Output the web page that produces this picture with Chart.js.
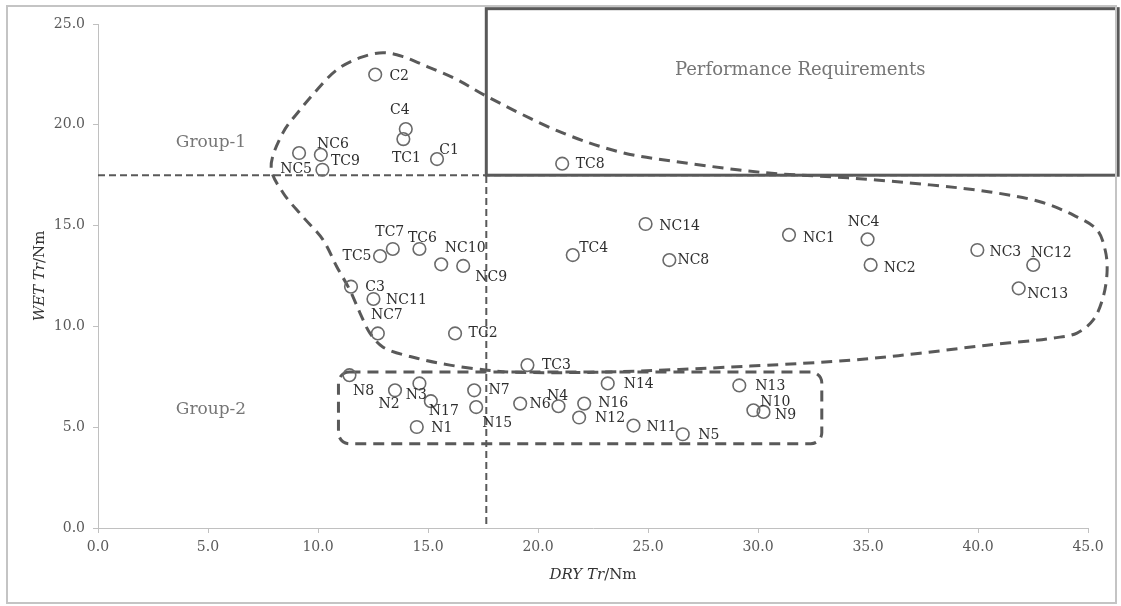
<!DOCTYPE html>
<html>
<head>
<meta charset="utf-8">
<script src="https://cdn.jsdelivr.net/npm/chart.js@4.4.1/dist/chart.umd.min.js"></script>
<style>
  html, body { margin: 0; padding: 0; background: #ffffff; }
  #wrap { width: 1121px; height: 606px; }
</style>
</head>
<body>
<div id="wrap"><canvas id="c" width="1121" height="606"></canvas></div>
<script>
// ---------- data ----------
const pointNames = ['C2','C4','TC1','C1','NC5','NC6','TC9','TC8',
  'TC7','TC5','TC6','NC10','NC9','C3','NC11','NC7','TC2',
  'N8','N2','N3','N17','N1','N7','N15','N6','N4','TC3',
  'N14','N16','N12','N11','N5','N13','N10','N9',
  'TC4','NC14','NC8','NC1','NC4','NC2','NC3','NC12','NC13'];
const dryTr = [12.60,13.99,13.88,15.41,9.14,10.13,10.20,21.10,
  13.40,12.82,14.61,15.60,16.60,11.50,12.52,12.72,16.23,
  11.43,13.50,14.61,15.13,14.49,17.10,17.19,19.19,20.93,19.52,
  23.17,22.10,21.87,24.34,26.58,29.15,29.79,30.25,
  21.58,24.89,25.97,31.41,34.98,35.12,39.97,42.51,41.85];
const wetTr = [22.49,19.79,19.29,18.30,18.60,18.51,17.77,18.07,
  13.84,13.49,13.84,13.08,13.00,11.97,11.36,9.65,9.65,
  7.58,6.83,7.17,6.29,5.01,6.83,6.00,6.17,6.04,8.08,
  7.17,6.17,5.48,5.08,4.65,7.07,5.84,5.76,
  13.54,15.08,13.29,14.54,14.32,13.05,13.79,13.05,11.89];

// label placement relative to each marker (pixels)
const labelDx = [24,-6,3,12,-3,12,23,28,
  -3,-23,3,24,28,24,33,9,28,
  14,-6,-3,13,25,25,21,20,-1,29,
  31,29,31,28,26,31,22,22,
  21,34,24,30,-4,29,28,18,29];
const labelDy = [2,-19,19,-9,16,-10,-8,1,
  -17,0,-11,-16,11,1,1,-18,0,
  16,14,12,10,1,0,16,1,-10,0,
  1,0,1,2,1,1,-8,3,
  -7,2,0,3,-17,3,2,-12,6];

const xTickLabels = ['0.0','5.0','10.0','15.0','20.0','25.0','30.0','35.0','40.0','45.0'];
const yTickLabels = ['0.0','5.0','10.0','15.0','20.0','25.0'];

const dryThreshold = 17.65;   // vertical dashed line
const wetThreshold = 17.5;    // horizontal dashed line
const perfBoxX = [17.65, 46.37];
const perfBoxY = [17.5, 25.76];
const group2BoxX = [10.93, 32.90];
const group2BoxY = [4.18, 7.74];

// Group-1 outline (data coordinates)
const group1OutlineX = [7.87,8.41,9.19,9.96,10.87,11.91,12.96,13.87,14.96,16.32,17.69,21.09,23.87,26.64,30.37,34.09,37.82,40.55,42.82,44.32,45.41,45.78,45.87,45.69,45.23,44.50,43.41,40.41,37.37,34.32,29.64,22.82,18.87,17.69,16.00,14.50,12.96,12.36,11.91,11.45,10.86,10.23,9.32,8.41];
const group1OutlineY = [17.87,19.61,20.75,21.74,22.74,23.33,23.58,23.38,22.89,22.24,21.40,19.61,18.61,18.12,17.62,17.37,17.02,16.67,16.18,15.53,14.79,13.79,12.80,11.46,10.31,9.67,9.42,9.07,8.67,8.33,8.03,7.73,7.73,7.83,8.08,8.42,8.97,9.67,10.66,11.80,12.95,14.29,15.43,16.63];

// ---------- drawing ----------
const SERIF = "'DejaVu Serif', 'Liberation Serif', serif";
const LINE = '#595959';

// closed centripetal Catmull-Rom spline
function closedSpline(ctx, pts) {
  const n = pts.length;
  const dist = (a, b) => Math.pow(Math.hypot(b[0] - a[0], b[1] - a[1]), 0.5) || 1e-6;
  ctx.beginPath();
  ctx.moveTo(pts[0][0], pts[0][1]);
  for (let i = 0; i < n; i++) {
    const p0 = pts[(i - 1 + n) % n], p1 = pts[i], p2 = pts[(i + 1) % n], p3 = pts[(i + 2) % n];
    const d1 = dist(p0, p1), d2 = dist(p1, p2), d3 = dist(p2, p3);
    const b1 = [0, 1].map(k => (d1 * d1 * p2[k] - d2 * d2 * p0[k] + (2 * d1 * d1 + 3 * d1 * d2 + d2 * d2) * p1[k]) / (3 * d1 * (d1 + d2)));
    const b2 = [0, 1].map(k => (d3 * d3 * p1[k] - d2 * d2 * p3[k] + (2 * d3 * d3 + 3 * d3 * d2 + d2 * d2) * p2[k]) / (3 * d3 * (d3 + d2)));
    ctx.bezierCurveTo(b1[0], b1[1], b2[0], b2[1], p2[0], p2[1]);
  }
  ctx.closePath();
}

function roundRectPath(ctx, x0, y0, x1, y1, r) {
  ctx.beginPath();
  ctx.moveTo(x0 + r, y0);
  ctx.lineTo(x1 - r, y0);
  ctx.arcTo(x1, y0, x1, y0 + r, r);
  ctx.lineTo(x1, y1 - r);
  ctx.arcTo(x1, y1, x1 - r, y1, r);
  ctx.lineTo(x0 + r, y1);
  ctx.arcTo(x0, y1, x0, y1 - r, r);
  ctx.lineTo(x0, y0 + r);
  ctx.arcTo(x0, y0, x0 + r, y0, r);
  ctx.closePath();
}

const decorPlugin = {
  id: 'decor',
  beforeDraw(chart) {
    const ctx = chart.ctx;
    ctx.save();
    ctx.fillStyle = '#ffffff';
    ctx.fillRect(0, 0, chart.width, chart.height);
    ctx.restore();
  },
  beforeDatasetsDraw(chart) {
    const ctx = chart.ctx, xs = chart.scales.x, ys = chart.scales.y;
    ctx.save();
    // threshold lines
    ctx.strokeStyle = LINE;
    ctx.lineWidth = 2;
    ctx.setLineDash([7, 4]);
    ctx.beginPath();
    ctx.moveTo(xs.getPixelForValue(0), ys.getPixelForValue(wetThreshold));
    ctx.lineTo(xs.getPixelForValue(45), ys.getPixelForValue(wetThreshold));
    ctx.stroke();
    ctx.beginPath();
    ctx.moveTo(xs.getPixelForValue(dryThreshold), ys.getPixelForValue(0) - 4);
    ctx.lineTo(xs.getPixelForValue(dryThreshold), ys.getPixelForValue(wetThreshold));
    ctx.stroke();

    // performance requirements box
    ctx.setLineDash([]);
    ctx.lineWidth = 3;
    const bx0 = xs.getPixelForValue(perfBoxX[0]), bx1 = xs.getPixelForValue(perfBoxX[1]);
    const by0 = ys.getPixelForValue(perfBoxY[1]), by1 = ys.getPixelForValue(perfBoxY[0]);
    ctx.strokeRect(bx0, by0, bx1 - bx0, by1 - by0);

    // group outlines
    ctx.lineWidth = 3;
    ctx.setLineDash([11, 7]);
    const pts = group1OutlineX.map((v, i) => [xs.getPixelForValue(v), ys.getPixelForValue(group1OutlineY[i])]);
    closedSpline(ctx, pts);
    ctx.stroke();
    roundRectPath(ctx, xs.getPixelForValue(group2BoxX[0]), ys.getPixelForValue(group2BoxY[1]),
      xs.getPixelForValue(group2BoxX[1]), ys.getPixelForValue(group2BoxY[0]), 11);
    ctx.stroke();

    // annotation texts
    ctx.setLineDash([]);
    ctx.fillStyle = '#767676';
    ctx.textAlign = 'center';
    ctx.textBaseline = 'middle';
    ctx.font = '18px ' + SERIF;
    ctx.fillText('Performance Requirements', (bx0 + bx1) / 2 - 2, 70);
    ctx.font = '17px ' + SERIF;
    ctx.fillText('Group-1', 211, 143);
    ctx.fillText('Group-2', 211, 410);
    ctx.restore();
  },
  afterDatasetsDraw(chart) {
    const ctx = chart.ctx;
    const meta = chart.getDatasetMeta(0);
    ctx.save();
    ctx.fillStyle = '#2e2e2e';
    ctx.font = '14px ' + SERIF;
    ctx.textAlign = 'center';
    ctx.textBaseline = 'middle';
    meta.data.forEach((el, i) => {
      ctx.fillText(pointNames[i], el.x + labelDx[i], el.y + labelDy[i]);
    });
    ctx.restore();
  },
  afterDraw(chart) {
    const ctx = chart.ctx, ca = chart.chartArea;
    ctx.save();
    const drawTitle = (italic, plain, cx, cy, rot) => {
      ctx.save();
      ctx.translate(cx, cy);
      ctx.rotate(rot);
      ctx.fillStyle = '#333333';
      ctx.textBaseline = 'middle';
      const fi = 'italic 15px ' + SERIF, fn = '15px ' + SERIF;
      ctx.font = fi; const wi = ctx.measureText(italic).width;
      ctx.font = fn; const wn = ctx.measureText(plain).width;
      let x = -(wi + wn) / 2;
      ctx.textAlign = 'left';
      ctx.font = fi; ctx.fillText(italic, x, 0);
      ctx.font = fn; ctx.fillText(plain, x + wi, 0);
      ctx.restore();
    };
    drawTitle('DRY Tr', '/Nm', (ca.left + ca.right) / 2, 575, 0);
    drawTitle('WET Tr', '/Nm', 40, (ca.top + ca.bottom) / 2, -Math.PI / 2);
    ctx.strokeStyle = '#c4c4c4';
    ctx.lineWidth = 2;
    ctx.strokeRect(7, 6, 1109, 597);
    ctx.restore();
  }
};

const ctx = document.getElementById('c').getContext('2d');
new Chart(ctx, {
  type: 'scatter',
  data: {
    datasets: [{
      label: 'Tr',
      data: dryTr.map((x, i) => ({ x: x, y: wetTr[i] })),
      pointStyle: 'circle',
      pointRadius: 6.3,
      pointHoverRadius: 6.3,
      borderWidth: 1.6,
      borderColor: '#6a6a6a',
      backgroundColor: 'rgba(0,0,0,0)'
    }]
  },
  options: {
    responsive: false,
    animation: false,
    events: [],
    layout: { padding: { left: 0, right: 33, top: 24, bottom: 0 } },
    plugins: { legend: { display: false }, tooltip: { enabled: false }, title: { display: false } },
    scales: {
      x: {
        type: 'linear', min: 0, max: 45,
        afterBuildTicks: (s) => { s.ticks = xTickLabels.map(t => ({ value: parseFloat(t) })); },
        afterFit: (s) => { s.height = 78; },
        ticks: {
          callback: (v, i) => xTickLabels[i],
          color: '#595959', font: { family: SERIF, size: 14 }, padding: 6, maxRotation: 0
        },
        grid: { drawOnChartArea: false, drawTicks: true, tickLength: 5, color: '#c0c0c0' },
        border: { color: '#c0c0c0', width: 1 }
      },
      y: {
        type: 'linear', min: 0, max: 25,
        afterBuildTicks: (s) => { s.ticks = yTickLabels.map(t => ({ value: parseFloat(t) })); },
        afterFit: (s) => { s.width = 98; },
        ticks: {
          callback: (v, i) => yTickLabels[i],
          color: '#595959', font: { family: SERIF, size: 14 }, padding: 8
        },
        grid: { drawOnChartArea: false, drawTicks: true, tickLength: 5, color: '#c0c0c0' },
        border: { color: '#c0c0c0', width: 1 }
      }
    }
  },
  plugins: [decorPlugin]
});
</script>
</body>
</html>
